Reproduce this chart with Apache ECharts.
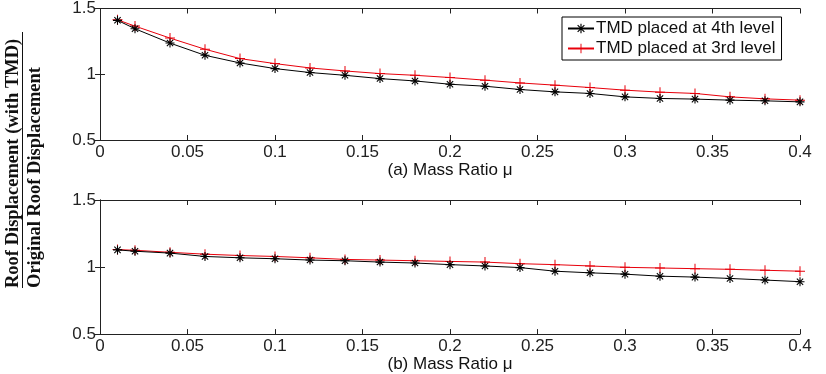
<!DOCTYPE html>
<html>
<head>
<meta charset="utf-8">
<script src="https://cdn.jsdelivr.net/npm/echarts@6/dist/echarts.min.js"></script>
<style>
  html, body { margin: 0; padding: 0; background: #fff; }
  #chart { width: 826px; height: 374px; }
</style>
</head>
<body>
<div id="chart"></div>
<script>
// mass ratio values (x)
var mu = [0.01, 0.02, 0.04, 0.06, 0.08, 0.10, 0.12, 0.14, 0.16, 0.18, 0.20,
          0.22, 0.24, 0.26, 0.28, 0.30, 0.32, 0.34, 0.36, 0.38, 0.40];

// (a) upper panel
var topLevel4 = [1.41, 1.346, 1.237, 1.144, 1.086, 1.043, 1.013, 0.992, 0.967, 0.949, 0.924,
                 0.909, 0.884, 0.866, 0.854, 0.828, 0.816, 0.811, 0.803, 0.798, 0.790];
var topLevel3 = [1.414, 1.366, 1.275, 1.19, 1.119, 1.081, 1.048, 1.025, 1.005, 0.992, 0.975,
                 0.955, 0.934, 0.917, 0.899, 0.879, 0.864, 0.854, 0.828, 0.813, 0.803];

// (b) lower panel
var botLevel4 = [1.128, 1.118, 1.104, 1.079, 1.069, 1.062, 1.052, 1.047, 1.037, 1.030, 1.018,
                 1.008, 0.996, 0.969, 0.957, 0.947, 0.932, 0.925, 0.915, 0.903, 0.891];
var botLevel3 = [1.13, 1.125, 1.11, 1.096, 1.086, 1.079, 1.069, 1.057, 1.052, 1.047, 1.042,
                 1.037, 1.025, 1.018, 1.008, 0.998, 0.993, 0.988, 0.983, 0.976, 0.969];

var seriesNames = ['TMD placed at 4th level', 'TMD placed at 3rd level'];
var xName = ['(a) Mass Ratio \u03bc', '(b) Mass Ratio \u03bc'];

var starPath = 'path://M-0.6,-5L0.6,-5L0.6,5L-0.6,5Z' +
  'M-5,-0.6L5,-0.6L5,0.6L-5,0.6Z' +
  'M-3.92,-3.08L-3.08,-3.92L3.92,3.08L3.08,3.92Z' +
  'M-3.08,3.92L-3.92,3.08L3.08,-3.92L3.92,-3.08Z';
var plusPath = 'path://M-0.5,-5L0.5,-5L0.5,5L-0.5,5Z M-5,-0.5L5,-0.5L5,0.5L-5,0.5Z';

var font = 'Arial, "Liberation Sans", sans-serif';
var tickFont = 17;
var labelFont = 'bold 18.5px "Liberation Serif", "Times New Roman", serif';

function zip(xs, ys) {
  return xs.map(function(x, i){ return [x, ys[i]]; });
}

var grids = [
  {left: 100, top: 8, width: 700, height: 132},
  {left: 100, top: 200, width: 700, height: 137}
];

var xAxes = [], yAxes = [];
[0, 1].forEach(function(g){
  xAxes.push({
    type: 'value', gridIndex: g, position: 'bottom',
    min: 0, max: 0.4, interval: 0.05,
    name: xName[g], nameLocation: 'middle', nameGap: 21,
    nameTextStyle: {color: '#111', fontSize: tickFont, fontFamily: font},
    axisLine: {lineStyle: {color: '#222', width: 1}},
    axisTick: {inside: true, length: 5, lineStyle: {color: '#222'}},
    axisLabel: {color: '#222', fontSize: tickFont, fontFamily: font, margin: 4},
    splitLine: {show: false}
  });
  xAxes.push({
    type: 'value', gridIndex: g, position: 'top',
    min: 0, max: 0.4, interval: 0.05,
    axisLine: {lineStyle: {color: '#222', width: 1}},
    axisTick: {inside: true, length: 5, lineStyle: {color: '#222'}},
    axisLabel: {show: false},
    splitLine: {show: false}
  });
  yAxes.push({
    type: 'value', gridIndex: g, position: 'left',
    min: 0.5, max: 1.5, interval: 0.5,
    axisLine: {show: true, lineStyle: {color: '#222', width: 1}},
    axisTick: {show: true, inside: true, length: 5, lineStyle: {color: '#222'}},
    axisLabel: {color: '#222', fontSize: tickFont, fontFamily: font, margin: 4},
    splitLine: {show: false}
  });
  yAxes.push({
    type: 'value', gridIndex: g, position: 'right',
    min: 0.5, max: 1.5, interval: 0.5,
    axisLine: {show: true, lineStyle: {color: '#222', width: 1}},
    axisTick: {show: true, inside: true, length: 5, lineStyle: {color: '#222'}},
    axisLabel: {show: false},
    splitLine: {show: false}
  });
});

function line(name, g, ys, color, sym, size) {
  return {
    name: name, type: 'line',
    xAxisIndex: g * 2, yAxisIndex: g * 2,
    data: zip(mu, ys),
    symbol: sym, symbolSize: size,
    showAllSymbol: true,
    lineStyle: {color: color, width: 1},
    itemStyle: {color: color},
    emphasis: {disabled: true},
    animation: false, z: name === seriesNames[0] ? 3 : 2
  };
}

var chart = echarts.init(document.getElementById('chart'));
chart.setOption({
  backgroundColor: '#fff',
  animation: false,
  grid: grids,
  xAxis: xAxes,
  yAxis: yAxes,
  legend: {
    data: seriesNames,
    orient: 'vertical',
    left: 562, top: 17,
    backgroundColor: '#fff',
    borderColor: '#000', borderWidth: 1,
    padding: [3, 6, 3, 5],
    itemGap: 3,
    itemWidth: 26, itemHeight: 12,
    textStyle: {color: '#111', fontSize: tickFont, fontFamily: font, padding: [0, 0, 0, -3]}
  },
  graphic: [
    {
      type: 'text', x: 13, y: 288, rotation: Math.PI / 2,
      style: {text: 'Roof Displacement (with TMD)', fill: '#111', font: labelFont,
              textAlign: 'left', textVerticalAlign: 'middle'}
    },
    {
      type: 'text', x: 35, y: 288, rotation: Math.PI / 2,
      style: {text: 'Original Roof Displacement', fill: '#111', font: labelFont,
              textAlign: 'left', textVerticalAlign: 'middle'}
    },
    {
      type: 'line', shape: {x1: 22.5, y1: 288, x2: 22.5, y2: 32},
      style: {stroke: '#111', lineWidth: 1}
    }
  ],
  series: [
    line(seriesNames[0], 0, topLevel4, '#000', starPath, 9),
    line(seriesNames[1], 0, topLevel3, '#e8000b', plusPath, 10),
    line(seriesNames[0], 1, botLevel4, '#000', starPath, 9),
    line(seriesNames[1], 1, botLevel3, '#e8000b', plusPath, 10)
  ]
});
</script>
</body>
</html>
